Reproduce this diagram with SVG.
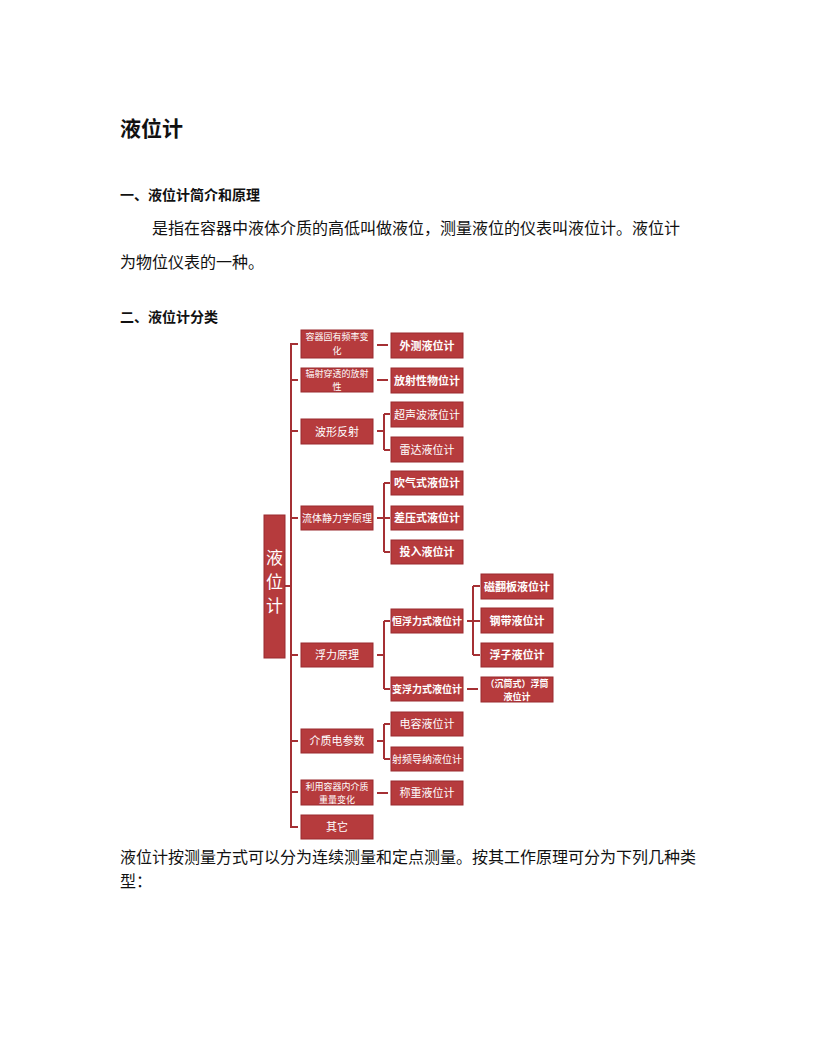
<svg xmlns="http://www.w3.org/2000/svg" width="816" height="1056" viewBox="0 0 816 1056">
<style>
  .page { font-family: "Noto Sans CJK SC", "Noto Sans", sans-serif; fill: #111; }
  .title { font-size: 21px; font-weight: bold; }
  .h { font-size: 14px; font-weight: bold; }
  .p { font-size: 16px; }
  .box { fill: #b63b3d; stroke: #9a2b2e; stroke-width: 1; }
  .bt { font-family: "Noto Sans CJK SC", "Noto Sans", sans-serif; fill: #ffffff; font-size: 11px; text-anchor: middle; }
  .bt7 { font-size: 10px; }
  .bt2 { font-size: 9px; }
  .b { font-weight: bold; }
  .root { font-size: 17px; }
  .ln { stroke: #a53034; stroke-width: 2; fill: none; }
</style>
<rect width="816" height="1056" fill="#ffffff"/>
<g id="page-text" class="page">
  <text class="title" x="120" y="136">液位计</text>
  <text class="h" x="120" y="200">一、液位计简介和原理</text>
  <text class="p" x="152" y="234">是指在容器中液体介质的高低叫做液位，测量液位的仪表叫液位计。液位计</text>
  <text class="p" x="120" y="268">为物位仪表的一种。</text>
  <text class="h" x="120" y="322">二、液位计分类</text>
  <text class="p" x="120" y="863">液位计按测量方式可以分为连续测量和定点测量。按其工作原理可分为下列几种类</text>
  <text class="p" x="120" y="887">型：</text>
</g>
<g id="connectors">
  <path class="ln" d="M285 586H291M291 343V828M291 344H298M291 380H298M291 431H298M291 518H298M291 655H298M291 741H298M291 792H298M291 827H298"/>
  <path class="ln" d="M377 345H388M377 380H388"/>
  <path class="ln" d="M377 431H384M384 414V450M384 414H390M384 450H390"/>
  <path class="ln" d="M377 518H384M384 483V552M384 483H390M384 518H390M384 552H390"/>
  <path class="ln" d="M377 655H384M384 621V689M384 621H390M384 689H390"/>
  <path class="ln" d="M467 621H473M473 586V655M473 586H480M473 621H480M473 655H480M467 689H478"/>
  <path class="ln" d="M377 741H384M384 724V759M384 724H390M384 759H390"/>
  <path class="ln" d="M377 793H388"/>
</g>
<g id="root"><rect class="box" x="264" y="515" width="21" height="143"/>
  <text class="bt root" x="274.5" y="564">液</text><text class="bt root" x="274.5" y="588">位</text><text class="bt root" x="274.5" y="612">计</text></g>
<g id="n1"><rect class="box" x="301" y="330" width="72" height="28"/><text class="bt bt2" x="337" y="340">容器固有频率变</text><text class="bt bt2" x="337" y="354">化</text></g>
<g id="n2"><rect class="box" x="301" y="368" width="72" height="24"/><text class="bt bt2" x="337" y="377">辐射穿透的放射</text><text class="bt bt2" x="337" y="390">性</text></g>
<g id="n3"><rect class="box" x="301" y="419" width="72" height="25"/><text class="bt" x="337" y="435.5">波形反射</text></g>
<g id="n4"><rect class="box" x="301" y="506" width="72" height="24"/><text class="bt bt7" x="337" y="521.5">流体静力学原理</text></g>
<g id="n5"><rect class="box" x="301" y="643" width="72" height="24"/><text class="bt" x="337" y="659">浮力原理</text></g>
<g id="n6"><rect class="box" x="301" y="729" width="72" height="24"/><text class="bt" x="337" y="745">介质电参数</text></g>
<g id="n7"><rect class="box" x="301" y="780" width="72" height="25"/><text class="bt bt2" x="337" y="790">利用容器内介质</text><text class="bt bt2" x="337" y="803">重量变化</text></g>
<g id="n8"><rect class="box" x="301" y="815" width="72" height="24"/><text class="bt" x="337" y="831">其它</text></g>
<g id="m1"><rect class="box" x="391" y="333" width="72" height="25"/><text class="bt b" x="427" y="349.5">外测液位计</text></g>
<g id="m2"><rect class="box" x="391" y="368" width="72" height="25"/><text class="bt b" x="427" y="384.5">放射性物位计</text></g>
<g id="m3"><rect class="box" x="391" y="402" width="72" height="25"/><text class="bt" x="427" y="418.5">超声波液位计</text></g>
<g id="m4"><rect class="box" x="391" y="437" width="72" height="25"/><text class="bt" x="427" y="453.5">雷达液位计</text></g>
<g id="m5"><rect class="box" x="391" y="471" width="72" height="24"/><text class="bt b" x="427" y="487">吹气式液位计</text></g>
<g id="m6"><rect class="box" x="391" y="506" width="72" height="24"/><text class="bt b" x="427" y="522">差压式液位计</text></g>
<g id="m7"><rect class="box" x="391" y="540" width="72" height="24"/><text class="bt b" x="427" y="556">投入液位计</text></g>
<g id="m8"><rect class="box" x="391" y="609" width="72" height="24"/><text class="bt bt7 b" x="427" y="625">恒浮力式液位计</text></g>
<g id="m9"><rect class="box" x="391" y="677" width="72" height="24"/><text class="bt bt7 b" x="427" y="693">变浮力式液位计</text></g>
<g id="m10"><rect class="box" x="391" y="712" width="72" height="24"/><text class="bt" x="427" y="728">电容液位计</text></g>
<g id="m11"><rect class="box" x="391" y="747" width="72" height="24"/><text class="bt bt7" x="427" y="762.5">射频导纳液位计</text></g>
<g id="m12"><rect class="box" x="391" y="781" width="72" height="24"/><text class="bt" x="427" y="797">称重液位计</text></g>
<g id="k1"><rect class="box" x="481" y="574" width="72" height="25"/><text class="bt b" x="517" y="590.5">磁翻板液位计</text></g>
<g id="k2"><rect class="box" x="481" y="608" width="72" height="25"/><text class="bt b" x="517" y="624.5">钢带液位计</text></g>
<g id="k3"><rect class="box" x="481" y="643" width="72" height="24"/><text class="bt b" x="517" y="659">浮子液位计</text></g>
<g id="k4"><rect class="box" x="481" y="677" width="72" height="25"/><text class="bt bt2 b" x="517" y="687">（沉筒式）浮筒</text><text class="bt bt2 b" x="517" y="700">液位计</text></g>
</svg>
